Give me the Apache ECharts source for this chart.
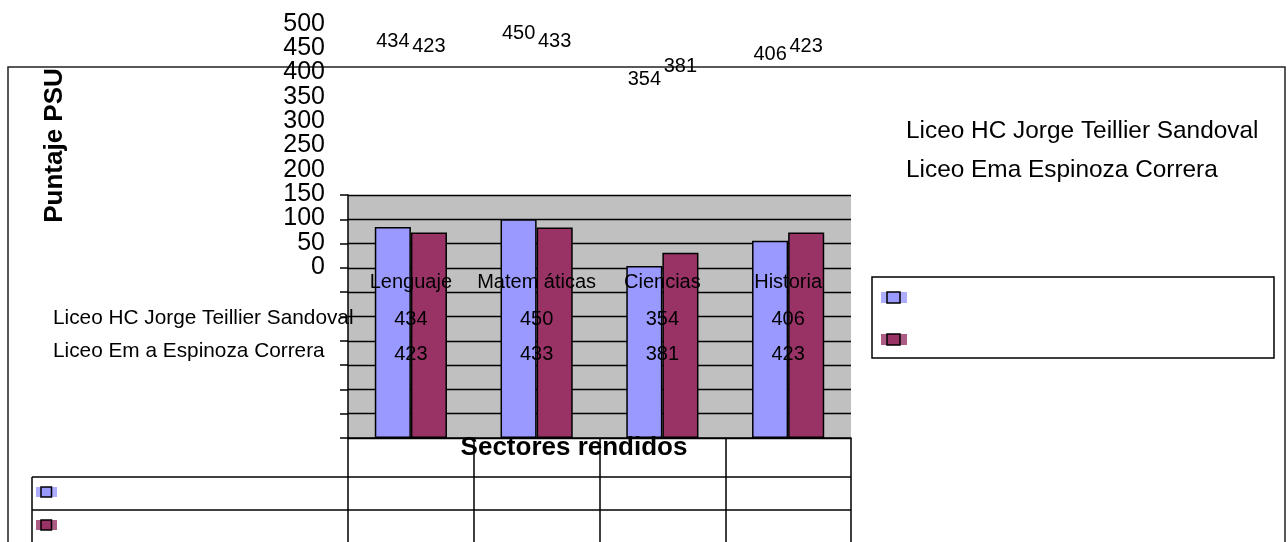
<!DOCTYPE html>
<html>
<head>
<meta charset="utf-8">
<script src="https://cdn.jsdelivr.net/npm/echarts@6/dist/echarts.min.js"></script>
<style>html,body{margin:0;padding:0;background:#fff;}#c{width:1288px;height:542px;}</style>
</head>
<body>
<div id="c"></div>
<script>
const categories = ['Lenguaje', 'Matem áticas', 'Ciencias', 'Historia'];
const seriesNames = ['Liceo HC Jorge Teillier Sandoval', 'Liceo Ema Espinoza Correra'];
const tableRowLabels = ['Liceo HC Jorge Teillier Sandoval', 'Liceo Em a Espinoza Correra'];
const valuesTeillier = [434, 450, 354, 406];
const valuesEspinoza = [423, 433, 381, 423];
const yTickLabels = ['0', '50', '100', '150', '200', '250', '300', '350', '400', '450', '500'];
const axisMin = 0, axisMax = 500, axisStep = 50;
const yAxisTitle = 'Puntaje PSU';
const xAxisTitle = 'Sectores rendidos';
const colors = ['#9999FF', '#993366'];

const FONT = '"Liberation Sans", Arial, sans-serif';
const chart = echarts.init(document.getElementById('c'));
const seriesValues = [valuesTeillier, valuesEspinoza];

const series = [];
seriesValues.forEach((vals, i) => {
  series.push({
    type: 'bar', name: seriesNames[i], xAxisIndex: 0, yAxisIndex: 0, data: vals,
    barWidth: '28.7%', barGap: '0%', silent: true,
    itemStyle: { color: colors[i], borderColor: '#000', borderWidth: 1.5 }
  });
});
seriesValues.forEach((vals, i) => {
  series.push({
    type: 'bar', name: seriesNames[i] + ' (etiqueta)', xAxisIndex: 1, yAxisIndex: 1, data: vals,
    barWidth: '28.7%', barGap: '0%', silent: true, z: 20,
    itemStyle: { color: 'rgba(0,0,0,0)' },
    label: { show: true, position: 'top', distance: 5, fontSize: 20, color: '#000', fontFamily: FONT }
  });
});

const graphics = [
  { type: 'rect', shape: { x: 8, y: 67, width: 1277, height: 520 }, style: { fill: 'none', stroke: '#222', lineWidth: 1.5 }, z: 0 },
  { type: 'line', shape: { x1: 32, y1: 477, x2: 851, y2: 477 }, style: { stroke: '#000', lineWidth: 1.5 } },
  { type: 'line', shape: { x1: 32, y1: 510, x2: 851, y2: 510 }, style: { stroke: '#000', lineWidth: 1.5 } },
  { type: 'line', shape: { x1: 32, y1: 477, x2: 32, y2: 560 }, style: { stroke: '#000', lineWidth: 1.5 } },
  { type: 'text', x: 574, y: 448, z: 30, style: { text: xAxisTitle, font: 'bold 26px ' + FONT, fill: '#000', textAlign: 'center', textVerticalAlign: 'middle' } },
  { type: 'rect', shape: { x: 872, y: 277, width: 402, height: 81 }, style: { fill: 'none', stroke: '#000', lineWidth: 1.5 } }
];
const rowY = [318.5, 351.5];
const legendTextY = [131, 170.5];
const rightMarkerY = [297.5, 339.5];
const bottomMarkerY = [492, 525];
for (let i = 0; i < 2; i++) {
  graphics.push({ type: 'text', x: 53, y: rowY[i], style: { text: tableRowLabels[i], font: '20.8px ' + FONT, fill: '#000', textVerticalAlign: 'middle' } });
  graphics.push({ type: 'text', x: 906, y: legendTextY[i], style: { text: seriesNames[i], font: '24.4px ' + FONT, fill: '#000', textVerticalAlign: 'middle' } });
  graphics.push({ type: 'rect', shape: { x: 881, y: rightMarkerY[i] - 5.5, width: 26, height: 11 }, style: { fill: colors[i], opacity: 0.8 } });
  graphics.push({ type: 'rect', shape: { x: 887, y: rightMarkerY[i] - 5.5, width: 13, height: 11 }, style: { fill: colors[i], stroke: '#000', lineWidth: 1.5 } });
  graphics.push({ type: 'rect', shape: { x: 36, y: bottomMarkerY[i] - 5, width: 21, height: 10 }, style: { fill: colors[i], opacity: 0.8 } });
  graphics.push({ type: 'rect', shape: { x: 41, y: bottomMarkerY[i] - 5, width: 10.5, height: 10 }, style: { fill: colors[i], stroke: '#000', lineWidth: 1.5 } });
}

const option = {
  animation: false,
  textStyle: { fontFamily: FONT },
  grid: [
    { left: 348, right: 437, top: 195, bottom: 104, show: true, backgroundColor: '#C0C0C0', borderWidth: 0 },
    { left: 348, right: 437, top: 24, bottom: 275, show: false }
  ],
  xAxis: [
    { gridIndex: 0, type: 'category', data: categories,
      axisLine: { show: true, lineStyle: { color: '#000', width: 1.5 } },
      axisTick: { show: true, length: 110, lineStyle: { color: '#000', width: 1.5 } },
      axisLabel: { show: false }, splitLine: { show: false } },
    { gridIndex: 1, type: 'category', data: categories, z: 20,
      axisLine: { show: false }, axisTick: { show: false },
      axisLabel: { fontSize: 20, margin: 5, color: '#000', fontFamily: FONT, interval: 0, hideOverlap: false } },
    { gridIndex: 1, type: 'category', data: categories, position: 'bottom', offset: 42, z: 20,
      axisLine: { show: false }, axisTick: { show: false },
      axisLabel: { fontSize: 20, margin: 0, color: '#000', fontFamily: FONT, interval: 0, hideOverlap: false, formatter: (v, idx) => String(valuesTeillier[idx]) } },
    { gridIndex: 1, type: 'category', data: categories, position: 'bottom', offset: 77, z: 20,
      axisLine: { show: false }, axisTick: { show: false },
      axisLabel: { fontSize: 20, margin: 0, color: '#000', fontFamily: FONT, interval: 0, hideOverlap: false, formatter: (v, idx) => String(valuesEspinoza[idx]) } }
  ],
  yAxis: [
    { gridIndex: 0, type: 'value', min: axisMin, max: axisMax, interval: axisStep,
      axisLine: { show: true, lineStyle: { color: '#000', width: 1.5 } },
      axisTick: { show: true, length: 8, lineStyle: { color: '#000', width: 1.5 } },
      axisLabel: { show: false },
      splitLine: { show: true, lineStyle: { color: '#000', width: 1.3 } } },
    { gridIndex: 1, type: 'value', min: axisMin, max: axisMax, interval: axisStep,
      axisLine: { show: false }, axisTick: { show: false }, splitLine: { show: false }, axisLabel: { show: false } },
    { gridIndex: 1, type: 'category', data: yTickLabels, boundaryGap: false, z: 20, position: 'left',
      axisLine: { show: false }, axisTick: { show: false }, splitLine: { show: false },
      axisLabel: { fontSize: 25, margin: 23, color: '#000', fontFamily: FONT, interval: 0, hideOverlap: false },
      name: yAxisTitle, nameLocation: 'middle', nameGap: 280, nameRotate: 90,
      nameTextStyle: { fontSize: 26, fontWeight: 'bold', color: '#000', fontFamily: FONT } }
  ],
  series: series,
  graphic: graphics
};
chart.setOption(option);
</script>
</body>
</html>
